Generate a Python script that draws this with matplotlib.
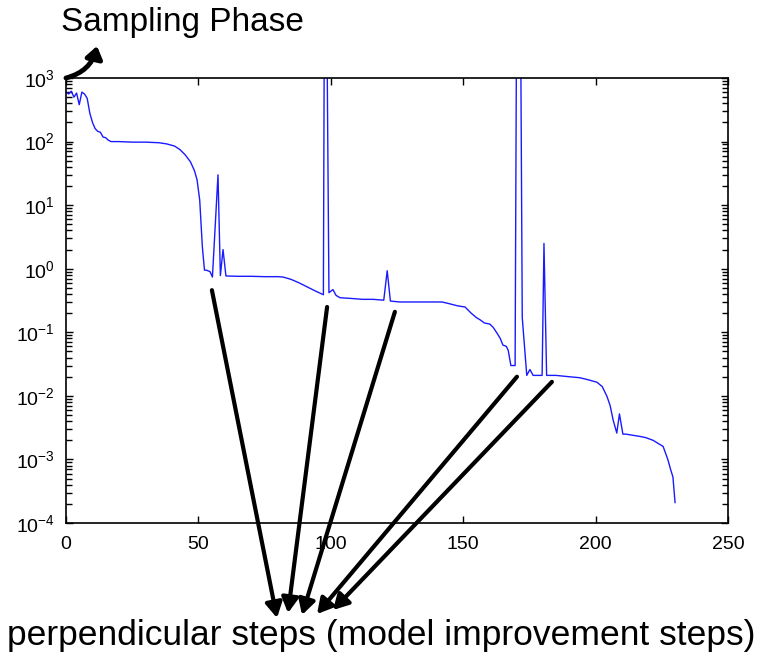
import matplotlib
matplotlib.use("Agg")
import matplotlib.pyplot as plt
from matplotlib.ticker import LogLocator, FixedLocator, NullFormatter

plt.rcParams['font.family'] = ['Liberation Sans', 'DejaVu Sans']
plt.rcParams['mathtext.fontset'] = 'custom'
plt.rcParams['mathtext.rm'] = 'Liberation Sans'
plt.rcParams['mathtext.it'] = 'Liberation Sans:italic'
plt.rcParams['mathtext.bf'] = 'Liberation Sans:bold'

# ---- data ----
iters = [0, 1, 2, 3, 4, 5, 6, 7, 8, 9, 10, 11, 12, 13, 14, 15, 16, 17, 20, 25,
         30, 35, 38, 41, 43, 45, 47, 48.5, 49.5, 50.5, 51.5, 52.3, 53, 54.4, 55.3,
         57.4, 58.3, 59.3, 60.4, 65, 70, 75, 80, 82, 85, 88, 91, 94, 97.2, 97.6,
         98.4, 99.3, 100.8, 102, 103.5, 108, 112, 116, 120, 121.3, 122.5, 126, 130,
         135, 140, 142, 145, 148, 150.7, 153, 155, 156.3, 158, 160, 161.3, 162.7,
         164, 165, 166.3, 167, 168, 169.6, 170.2, 171.6, 172.3, 174, 175.2, 176.4,
         179.8, 180.5, 181.5, 185, 190, 194, 197, 200.5, 202.5, 204.3, 205.5,
         206.6, 208, 209, 210.3, 211.5, 214, 216.8, 219, 221.7, 223.5, 225.5,
         227.3, 228.3, 229.2, 230]
residual = [600, 560, 620, 500, 580, 380, 600, 560, 480, 280, 200, 160, 145, 140,
            118, 115, 105, 100, 100, 98,
            98, 96, 92, 85, 75, 62, 48, 35, 25, 12, 2.2, 0.95, 0.95, 0.9, 0.74,
            30, 0.78, 2.0, 0.77, 0.76, 0.76, 0.75, 0.75, 0.74, 0.68, 0.6, 0.52, 0.45, 0.39, 3e4,
            3e4, 0.42, 0.47, 0.38, 0.35, 0.34, 0.33, 0.33, 0.32, 0.93, 0.31, 0.30, 0.30,
            0.30, 0.30, 0.30, 0.28, 0.26, 0.25, 0.20, 0.17, 0.158, 0.14, 0.135, 0.12, 0.098,
            0.08, 0.063, 0.06, 0.052, 0.030, 0.030, 3e4, 3e4, 0.17, 0.021, 0.026, 0.021,
            0.021, 2.5, 0.021, 0.021, 0.020, 0.0193, 0.018, 0.0164, 0.014, 0.0098, 0.007,
            0.0042, 0.0026, 0.0052, 0.0025, 0.0025, 0.0024, 0.0023, 0.0022, 0.0020, 0.0018, 0.0016,
            0.00099, 0.0007, 0.00053, 0.00021]

x_ticks = [0, 50, 100, 150, 200, 250]

# annotation arrow start points on the curve (data coords)
step_x = [55.1, 98.6, 124.2, 170.3, 183.5]
step_y = [0.46, 0.25, 0.21, 0.020, 0.0166]
# arrow tips (figure pixels, measured from bottom-left)
tip_px = [(277, 37), (288, 42), (302, 40), (317, 41), (333, 45)]

fig = plt.figure(figsize=(7.62, 6.55), dpi=100)
ax = fig.add_axes([0.0866, 0.2015, 0.8688, 0.6794])

ax.plot(iters, residual, color='#1a1aff', lw=1.0)
ax.set_yscale('log')
ax.set_xlim(0, 250)
ax.set_ylim(1e-4, 1e3)
ax.xaxis.set_major_locator(FixedLocator(x_ticks))
ax.yaxis.set_major_locator(LogLocator(base=10, numticks=20))
ax.yaxis.set_minor_locator(LogLocator(base=10, subs=range(2, 10), numticks=20))
ax.yaxis.set_minor_formatter(NullFormatter())
ax.tick_params(which='both', direction='in', top=True, right=True,
               labelsize=14, width=1.0)
ax.tick_params(axis='x', pad=9)
ax.tick_params(axis='y', pad=8)
ax.tick_params(which='major', length=5)
ax.tick_params(which='minor', length=4)
for s in ax.spines.values():
    s.set_linewidth(1.2)

# "Sampling Phase" annotation
fig.text(182 / 762, 1 - 23 / 655, "Sampling Phase", fontsize=24,
         ha='center', va='center')
ax.annotate("", xy=(97, 655 - 46), xycoords='figure pixels',
            xytext=(0, 1000), textcoords='data',
            arrowprops=dict(arrowstyle='-|>,head_length=0.7,head_width=0.5',
                            color='black', lw=3.5, shrinkA=0, shrinkB=0,
                            connectionstyle='arc3,rad=0.3'),
            annotation_clip=False)

# perpendicular step arrows
for sx, sy, tp in zip(step_x, step_y, tip_px):
    ax.annotate("", xy=tp, xycoords='figure pixels',
                xytext=(sx, sy), textcoords='data',
                arrowprops=dict(arrowstyle='-|>,head_length=0.9,head_width=0.5',
                                color='black', lw=3.0, shrinkA=0, shrinkB=0),
                annotation_clip=False)

fig.text(381 / 762, 1 - 636 / 655,
         "perpendicular steps (model improvement steps)", fontsize=25.5,
         ha='center', va='center')

fig.savefig("out.png", dpi=100)
